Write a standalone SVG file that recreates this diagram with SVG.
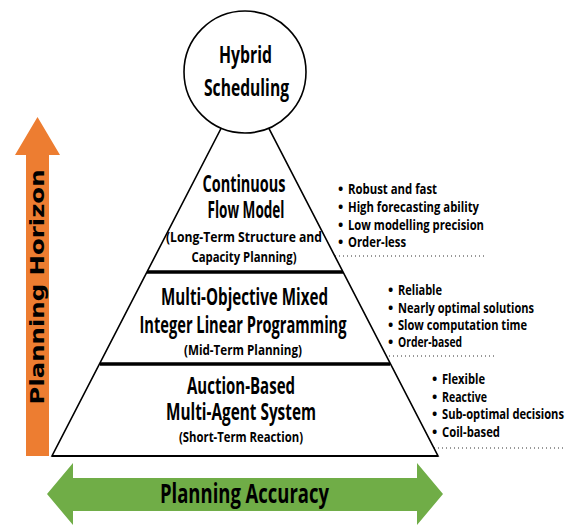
<svg xmlns="http://www.w3.org/2000/svg" width="570" height="525" viewBox="0 0 570 525">
<style>
text{font-family:"Open Sans","Liberation Sans",sans-serif;font-weight:700;fill:#000}
.t{font-size:23px;text-anchor:middle}
.s{font-size:15px;text-anchor:middle}
.b{font-size:15px}
.dot{font-size:14px}
.band{stroke:#000;stroke-width:3.5}
.dots{stroke:#333;stroke-width:1.2;stroke-dasharray:1 3;fill:none}
</style>
<rect width="570" height="525" fill="#fff"/>
<g id="horizon-arrow">
<polygon points="26,456 26,155 15,155 37.5,117 60,155 49,155 49,456" fill="#ED7D31"/>
<text transform="translate(44,287) rotate(-90)" style="font-family:'DejaVu Sans',sans-serif;font-size:19px" text-anchor="middle" textLength="235" lengthAdjust="spacingAndGlyphs">Planning Horizon</text>
</g>
<g id="accuracy-arrow">
<polygon points="47,494 73,463 73,478 417,478 417,463 443,494 417,525 417,511 73,511 73,525" fill="#70AD47"/>
<text x="244.5" y="503" style="font-size:26px" text-anchor="middle" textLength="169" lengthAdjust="spacingAndGlyphs">Planning Accuracy</text>
</g>
<g id="connectors">
<polyline class="dots" points="315,256 485,256"/>
<polyline class="dots" points="333,356 497,356"/>
<polyline class="dots" points="350,448 566,448"/>
</g>
<g id="pyramid">
<polygon points="245,82 52,456 438,456" fill="#fff" stroke="#000" stroke-width="1.6"/>
<line x1="52" y1="456" x2="438" y2="456" stroke="#000" stroke-width="2.2"/>
<line class="band" x1="147" y1="272" x2="343" y2="272"/>
<line class="band" x1="100" y1="364" x2="390" y2="364"/>
</g>
<g id="hybrid">
<circle cx="245" cy="72" r="61" fill="#fff" stroke="#000" stroke-width="1.6"/>
<text class="t" x="245.5" y="63" textLength="53" lengthAdjust="spacingAndGlyphs">Hybrid</text>
<text class="t" x="246.5" y="96" textLength="85" lengthAdjust="spacingAndGlyphs">Scheduling</text>
</g>
<g id="continuous-flow">
<text class="t" x="244" y="192" textLength="83" lengthAdjust="spacingAndGlyphs">Continuous</text>
<text class="t" x="246" y="218" textLength="77" lengthAdjust="spacingAndGlyphs">Flow Model</text>
<text class="s" x="244" y="242" textLength="156" lengthAdjust="spacingAndGlyphs">(Long-Term Structure and</text>
<text class="s" x="244" y="262" textLength="105" lengthAdjust="spacingAndGlyphs">Capacity Planning)</text>
</g>
<g id="milp">
<text class="t" x="244.5" y="305" textLength="167" lengthAdjust="spacingAndGlyphs">Multi-Objective Mixed</text>
<text class="t" x="243" y="333" textLength="207" lengthAdjust="spacingAndGlyphs">Integer Linear Programming</text>
<text class="s" x="243" y="355" textLength="118" lengthAdjust="spacingAndGlyphs">(Mid-Term Planning)</text>
</g>
<g id="auction">
<text class="t" x="241" y="394" textLength="108" lengthAdjust="spacingAndGlyphs">Auction-Based</text>
<text class="t" x="241" y="420" textLength="150" lengthAdjust="spacingAndGlyphs">Multi-Agent System</text>
<text class="s" x="241" y="442" textLength="124" lengthAdjust="spacingAndGlyphs">(Short-Term Reaction)</text>
</g>
<g id="bullets-top">
<text class="dot" x="338" y="194">•</text><text class="b" x="348" y="194" textLength="89" lengthAdjust="spacingAndGlyphs">Robust and fast</text>
<text class="dot" x="338" y="212">•</text><text class="b" x="348" y="212" textLength="131" lengthAdjust="spacingAndGlyphs">High forecasting ability</text>
<text class="dot" x="338" y="229.5">•</text><text class="b" x="348" y="229.5" textLength="136" lengthAdjust="spacingAndGlyphs">Low modelling precision</text>
<text class="dot" x="338" y="247">•</text><text class="b" x="348" y="247" textLength="58" lengthAdjust="spacingAndGlyphs">Order-less</text>
</g>
<g id="bullets-mid">
<text class="dot" x="388" y="295">•</text><text class="b" x="398" y="295" textLength="44" lengthAdjust="spacingAndGlyphs">Reliable</text>
<text class="dot" x="388" y="312.5">•</text><text class="b" x="398" y="312.5" textLength="136" lengthAdjust="spacingAndGlyphs">Nearly optimal solutions</text>
<text class="dot" x="388" y="330">•</text><text class="b" x="398" y="330" textLength="129" lengthAdjust="spacingAndGlyphs">Slow computation time</text>
<text class="dot" x="388" y="347">•</text><text class="b" x="398" y="347" textLength="64" lengthAdjust="spacingAndGlyphs">Order-based</text>
</g>
<g id="bullets-bottom">
<text class="dot" x="432" y="384">•</text><text class="b" x="442" y="384" textLength="43" lengthAdjust="spacingAndGlyphs">Flexible</text>
<text class="dot" x="432" y="401.5">•</text><text class="b" x="442" y="401.5" textLength="45" lengthAdjust="spacingAndGlyphs">Reactive</text>
<text class="dot" x="432" y="419">•</text><text class="b" x="442" y="419" textLength="122" lengthAdjust="spacingAndGlyphs">Sub-optimal decisions</text>
<text class="dot" x="432" y="436.5">•</text><text class="b" x="442" y="436.5" textLength="58" lengthAdjust="spacingAndGlyphs">Coil-based</text>
</g>
</svg>
